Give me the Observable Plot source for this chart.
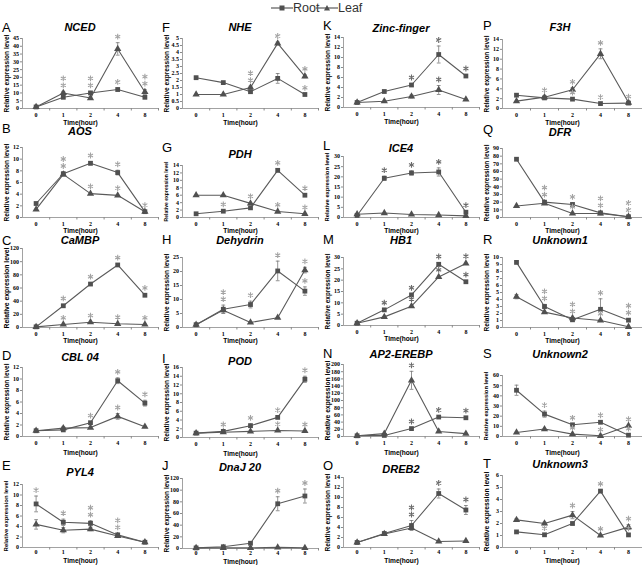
<!DOCTYPE html>
<html><head><meta charset="utf-8">
<script src="https://cdn.jsdelivr.net/npm/d3@7"></script>
<script src="https://cdn.jsdelivr.net/npm/@observablehq/plot@0.6"></script>
<style>
body{margin:0;background:#fff;}
#wrap{position:relative;width:642px;height:565px;overflow:hidden;background:#fff;font-family:Arial,"Liberation Sans",sans-serif;}
.panel{position:absolute;}
.letter{position:absolute;font-size:13px;line-height:1;color:#000;}
.title{position:absolute;font-size:11px;font-weight:bold;font-style:italic;line-height:1;transform:translate(-50%,-50%);white-space:nowrap;color:#000;}
.leg{position:absolute;font-size:12.5px;line-height:1;color:#333;transform:translateY(-50%);}
</style></head><body><div id="wrap"></div><script>
// ---------- data ----------
const letters = ["A","B","C","D","E","F","G","H","I","J","K","L","M","N","O","P","Q","R","S","T"];
const genes = ["NCED","AOS","CaMBP","CBL 04","PYL4","NHE","PDH","Dehydrin","POD","DnaJ 20","Zinc-finger","ICE4","HB1","AP2-EREBP","DREB2","F3H","DFR","Unknown1","Unknown2","Unknown3"];
const timeLabels = ["0","1","2","4","8"];
const seriesNames = ["Root","Leaf"];
const yMax  = [45,12,120,12,12, 5,14,25,16,120, 14,30,30,200,14, 14,90,10,60,6];
const yStep = [5,2,20,2,2, 0.5,2,5,2,20, 2,5,5,20,2, 2,10,1,10,1];
const rootValues = [
  [1.0,7.2,10.0,12.2,7.2],[2.4,7.5,9.3,7.7,1.0],[1.0,33,66,95,49],[1.0,1.15,2.4,9.7,5.8],[8.3,4.8,4.6,2.4,1.0],
  [2.2,1.85,1.2,2.15,1.0],[1.0,1.7,2.6,12.7,6.0],[1.0,6.5,8.2,20.2,13.0],[1.0,1.4,2.7,4.6,13.3],[1.0,3.0,9.0,76.7,90.0],
  [1.0,3.2,4.5,10.6,6.3],[1.0,19.3,21.9,22.4,2.6],[1.0,6.9,13.5,27.0,19.3],[2.0,3.0,22,54,52],[1.0,2.8,4.4,10.8,7.5],
  [2.7,2.15,1.9,1.0,1.1],[76,20,17,6,1],[9.3,3.0,1.1,2.6,1.05],[45.5,22,11.5,14,1.3],[1.3,1.06,2.0,4.7,1.05]
];
const leafValues = [
  [1.0,10.0,6.7,38.3,10.6],[1.4,7.4,4.1,3.8,1.0],[1.0,4.6,8.0,5.6,4.6],[1.0,1.45,1.55,3.5,1.7],[4.4,3.3,3.5,2.2,1.0],
  [1.0,1.0,1.5,4.65,2.3],[6.0,6.0,3.8,1.6,1.0],[1.0,6.2,1.8,3.5,20.5],[1.0,1.2,1.4,1.6,1.5],[1.0,1.0,1.0,2.0,1.0],
  [1.0,1.25,2.2,3.5,1.6],[1.6,2.2,1.5,1.2,0.8],[1.0,3.8,8.5,21.4,27.4],[2.0,8.0,156,14,8],[1.0,2.7,3.9,1.2,1.3],
  [1.5,2.3,3.8,11.1,1.2],[15,18.5,5.2,5.2,1],[4.4,2.2,1.35,1.0,0.1],[4.0,7.3,2.3,0.7,10.6],[2.3,2.0,2.7,1.0,1.7]
];
const rootErr = [
  [0.2,0.8,1,1,0.8],[0.2,0.3,0.3,0.4,0.1],[0.3,2,2,2,2],[0.1,0.1,0.2,0.5,0.5],[1.5,0.6,0.5,0.3,0.1],
  [0.1,0.05,0.1,0.35,0.05],[0.1,0.2,0.2,0.4,0.3],[0.2,1.5,1.2,3.5,1.5],[0.1,0.2,0.4,0.3,0.7],[0.5,1,2,12,12],
  [0.1,0.2,0.3,1.7,0.3],[0.2,1,1,2,0.5],[0.2,0.5,0.5,0.8,0.5],[0.5,1,3,3,3],[0.1,0.2,1,0.9,0.9],
  [0.1,0.1,0.1,0.1,0.1],[1.5,2,2,2,1],[0.1,0.3,0.2,1.5,0.2],[5,3,1,1,0.5],[0.05,0.05,0.1,0.1,0.05]
];
const leafErr = [
  [0.2,1,0.8,4,1.5],[0.1,0.3,0.2,0.2,0.1],[0.2,1,1,1,1],[0.1,0.3,0.1,0.5,0.1],[0.9,0.5,0.3,0.3,0.1],
  [0.05,0.05,0.1,0.1,0.1],[0.1,0.1,0.3,0.2,0.1],[0.1,1,0.2,0.3,1],[0.1,0.1,0.1,0.1,0.1],[0.2,0.2,0.2,0.5,0.2],
  [0.1,0.1,0.3,0.9,0.1],[0.2,0.3,0.2,0.2,0.1],[0.2,0.3,0.5,0.5,0.5],[0.5,2,25,3,2],[0.1,0.2,0.3,0.1,0.1],
  [0.1,0.2,0.4,1,0.1],[1,1,1,1,0.5],[0.3,0.1,0.1,0.1,0.05],[0.5,0.5,0.3,0.2,0.5],[0.1,0.1,0.3,0.05,0.2]
];
const rootSig = [
  [0,1,1,1,1],[0,1,1,1,0],[0,1,1,1,1],[0,0,1,1,1],[1,1,1,1,0],
  [0,0,1,0,1],[0,1,0,1,1],[0,1,1,1,1],[0,1,1,1,1],[0,0,0,1,1],
  [0,0,1,1,1],[0,1,1,1,1],[0,1,1,1,1],[0,0,1,1,1],[0,0,1,1,1],
  [0,0,1,1,1],[0,1,1,1,1],[0,1,1,1,1],[0,1,1,1,1],[0,1,0,1,1]
];
const leafSig = [
  [0,1,1,1,1],[0,1,1,1,1],[0,1,1,1,1],[0,0,0,1,0],[0,0,1,1,0],
  [0,0,1,1,1],[0,0,1,1,1],[0,1,0,0,1],[0,0,0,1,1],[0,0,0,0,0],
  [0,0,0,1,0],[0,0,0,0,0],[0,0,1,1,1],[0,0,1,0,0],[0,0,1,0,0],
  [0,1,1,1,0],[0,1,1,1,1],[0,1,1,1,1],[0,0,1,1,1],[0,0,1,1,1]
];

// ---------- layout (pixel geometry only) ----------
const colLeft = [0,160,321,480];
const colWidth = [160,160,160,162];
const plotTop    = [38,147,248,367,484, 38,165,257,367,478, 37,156,257,364,477, 39,148,257,375,475];
const plotBottom = [108,217,327,436,547, 108,217,327,437,548, 107,217,325,436,547, 108,217,327,436,547];
const titleY  = [27,131,240,357,472, 27,154,240,361,467, 28,148,240,354,469, 27,132,240,354,464];
const letterY = [27,128,240,355,465, 27,147,239,358,465, 25,145,239,353,465, 25,129,239,353,463];
const rowTimeDy = [14,13,13,16,13];
const rowTickPad = [4,4,4,4,2];
const lineColor = "#5a5a5a", markColor = "#505050";

const wrap = document.getElementById("wrap");

// legend
function legendItem(x, sym, name) {
  const s = document.createElementNS("http://www.w3.org/2000/svg","svg");
  s.setAttribute("width", 22); s.setAttribute("height", 10);
  s.style.position = "absolute"; s.style.left = x + "px"; s.style.top = "3px";
  let m = sym === "square"
    ? `<rect x="8.5" y="2.5" width="5" height="5" fill="${markColor}"/>`
    : `<path d="M11,2 L14,7.5 L8,7.5 Z" fill="${markColor}"/>`;
  s.innerHTML = `<line x1="0" x2="22" y1="5" y2="5" stroke="${lineColor}" stroke-width="1.2"/>` + m;
  wrap.appendChild(s);
  const t = document.createElement("div");
  t.className = "leg"; t.textContent = name;
  t.style.left = (x + 22) + "px"; t.style.top = "8px";
  wrap.appendChild(t);
}
legendItem(271, "square", seriesNames[0]);
legendItem(316, "triangle", seriesNames[1]);

for (let i = 0; i < 20; i++) {
  const col = Math.floor(i / 5), row = i % 5;
  const top = plotTop[i], bottom = plotBottom[i], h = bottom - top;
  const mt = 4, mb = 22, ml = 22, mr = col === 3 ? 0 : 2;
  const W = colWidth[col];
  const pxPerUnit = h / yMax[i];
  const data = timeLabels.map((t, k) => ({
    k, root: rootValues[i][k], leaf: leafValues[i][k], re: rootErr[i][k], le: leafErr[i][k]
  }));
  const errs = [];
  data.forEach(d => {
    if (d.re * pxPerUnit > 1.2) errs.push({k: d.k, v: d.root, e: d.re});
    if (d.le * pxPerUnit > 1.2) errs.push({k: d.k, v: d.leaf, e: d.le});
  });
  const starsLow = [], starsHigh = [];
  data.forEach(d => {
    const rs = rootSig[i][d.k], ls = leafSig[i][d.k];
    const rt = d.root + d.re, lt = d.leaf + d.le;
    if (rs && ls && Math.abs(rt - lt) * pxPerUnit < 9) {
      const m = Math.max(rt, lt);
      starsLow.push({k: d.k, y: m}); starsHigh.push({k: d.k, y: m});
    } else {
      if (rs) starsLow.push({k: d.k, y: rt});
      if (ls) starsLow.push({k: d.k, y: lt});
    }
  });
  const starColor = col === 2 ? "#6a6a6a" : "#a3a3a3";
  const ticks = d3.range(0, yMax[i] + yStep[i] / 2, yStep[i]).map(v => +v.toFixed(2));
  const capW = 0.07;
  const labFs = Math.min(6.8, (h + 8) / 11.9);
  const starOpts = {x: "k", y: "y", symbol: "asterisk", r: 2.7, stroke: starColor, strokeWidth: 1.1};

  const svg = Plot.plot({
    width: W, height: mt + h + mb,
    marginTop: mt, marginBottom: mb, marginLeft: ml, marginRight: mr,
    style: {fontFamily: "'Liberation Serif', serif", fontSize: "6px", fontWeight: "bold", background: "transparent", overflow: "visible", color: "#000"},
    x: {type: "linear", domain: [-0.5, 4.5]},
    y: {domain: [0, yMax[i]]},
    marks: [
      Plot.ruleX([-0.5], {stroke: "#8a8a8a", strokeWidth: 0.8}),
      Plot.ruleY([0], {stroke: "#8a8a8a", strokeWidth: 0.8}),
      Plot.axisY({ticks, tickSize: 2, tickPadding: 1.5, tickFormat: d => String(d), label: null, stroke: "#8a8a8a"}),
      Plot.axisX({ticks: [0.5, 1.5, 2.5, 3.5, 4.5], tickSize: 2.5, tickFormat: () => "", label: null, stroke: "#8a8a8a"}),
      Plot.axisX({ticks: [0, 1, 2, 3, 4], tickSize: 0, tickPadding: rowTickPad[row], tickFormat: k => timeLabels[k], label: null}),
      Plot.ruleX(errs, {x: "k", y1: d => d.v - d.e, y2: d => d.v + d.e, stroke: "#777", strokeWidth: 0.8}),
      Plot.link(errs, {x1: d => d.k - capW, x2: d => d.k + capW, y1: d => d.v + d.e, y2: d => d.v + d.e, stroke: "#777", strokeWidth: 0.8}),
      Plot.link(errs, {x1: d => d.k - capW, x2: d => d.k + capW, y1: d => d.v - d.e, y2: d => d.v - d.e, stroke: "#777", strokeWidth: 0.8}),
      Plot.line(data, {x: "k", y: "root", stroke: lineColor, strokeWidth: 1.1}),
      Plot.line(data, {x: "k", y: "leaf", stroke: lineColor, strokeWidth: 1.1}),
      Plot.dot(data, {x: "k", y: "root", symbol: "square", r: 2.7, fill: markColor}),
      Plot.dot(data, {x: "k", y: "leaf", symbol: "triangle", r: 2.7, fill: markColor}),
      Plot.dot(starsLow, {...starOpts, dy: -6}),
      Plot.dot(starsHigh, {...starOpts, dy: -13}),
      Plot.text(["Relative expression level"], {text: d => d, frameAnchor: "left", rotate: -90, dx: -16, textAnchor: "middle", lineAnchor: "middle", fontSize: labFs, fontWeight: "bold", fontFamily: "Arial, 'Liberation Sans', sans-serif", fill: "#000"}),
      Plot.text(["Time(hour)"], {text: d => d, frameAnchor: "bottom", dy: rowTimeDy[row], dx: -10, textAnchor: "middle", lineAnchor: "middle", fontSize: 6.6, fontWeight: "bold", fontFamily: "Arial, 'Liberation Sans', sans-serif", fill: "#000"})
    ]
  });
  const div = document.createElement("div");
  div.className = "panel";
  div.style.left = colLeft[col] + "px";
  div.style.top = (top - mt) + "px";
  div.appendChild(svg);
  wrap.appendChild(div);

  const L = document.createElement("div");
  L.className = "letter"; L.textContent = letters[i];
  L.style.left = (colLeft[col] + (col === 3 ? 3 : 2)) + "px";
  L.style.top = (letterY[i] - 6.5) + "px";
  wrap.appendChild(L);
  const T = document.createElement("div");
  T.className = "title"; T.textContent = genes[i];
  T.style.left = (colLeft[col] + 80) + "px";
  T.style.top = titleY[i] + "px";
  wrap.appendChild(T);
}
</script></body></html>
